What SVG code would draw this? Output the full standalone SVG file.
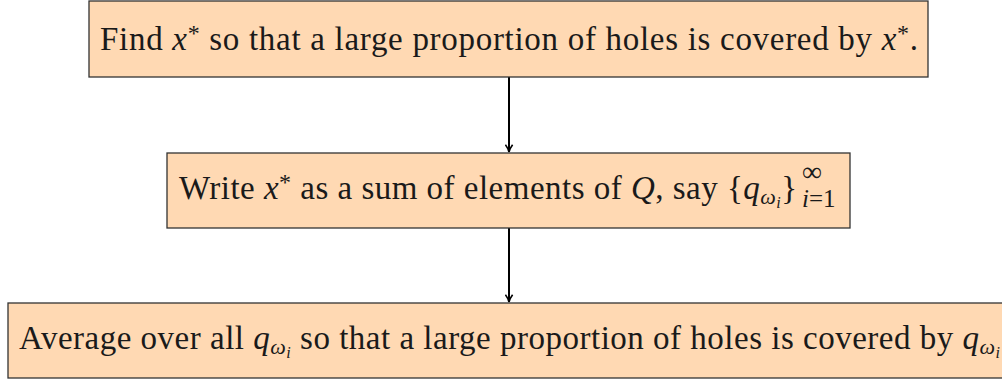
<svg xmlns="http://www.w3.org/2000/svg" width="1002" height="379" viewBox="0 0 1002 379">
<style>
.box{fill:#FFD9B3;stroke:#333;stroke-width:1.3}
.t{font-family:"Liberation Serif","Times New Roman",serif;font-size:33px;fill:#1a1a1a}
.s{font-family:"Liberation Serif","Times New Roman",serif;font-size:25px;fill:#1a1a1a}
.i{font-style:italic}
.conn{stroke:#000;stroke-width:2;fill:none}
</style>
<defs>
<marker id="ah" viewBox="0 0 10 10" refX="9" refY="5" markerWidth="9" markerHeight="9" markerUnits="userSpaceOnUse" orient="auto">
<path d="M1,1 Q5,4 9,5 Q5,6 1,9" fill="none" stroke="#000" stroke-width="1.8"/>
</marker>
</defs>
<g id="connectors">
<line class="conn" x1="509" y1="77" x2="509" y2="152" marker-end="url(#ah)"/>
<line class="conn" x1="509" y1="228" x2="509" y2="302" marker-end="url(#ah)"/>
</g>
<g id="node1">
<rect class="box" x="89" y="1" width="839" height="76"/>
<text class="t" x="100" y="50" textLength="818" lengthAdjust="spacing">Find <tspan class="i">x</tspan><tspan font-size="24" dy="-9">*</tspan><tspan dy="9"> so that a large proportion of holes is covered by </tspan><tspan class="i">x</tspan><tspan font-size="24" dy="-9">*</tspan><tspan dy="9">.</tspan></text>
</g>
<g id="node2">
<rect class="box" x="167" y="153" width="683" height="75"/>
<text class="t" x="179" y="199" textLength="618" lengthAdjust="spacing">Write <tspan class="i">x</tspan><tspan font-size="24" dy="-9">*</tspan><tspan dy="9"> as a sum of elements of </tspan><tspan class="i">Q</tspan>, say {<tspan class="i">q</tspan><tspan class="i" font-size="22" dy="5">ω</tspan><tspan class="i" font-size="16" dy="4">i</tspan><tspan dy="-9">}</tspan></text>
<text class="s"><tspan x="802" y="181" font-size="28">∞</tspan><tspan class="i" x="802" y="207">i</tspan><tspan>=1</tspan></text>
</g>
<g id="node3">
<rect class="box" x="8" y="303" width="1000" height="75"/>
<text class="t" x="19" y="349" textLength="981" lengthAdjust="spacing">Average over all <tspan class="i">q</tspan><tspan class="i" font-size="22" dy="5">ω</tspan><tspan class="i" font-size="16" dy="4">i</tspan><tspan dy="-9"> so that a large proportion of holes is covered by </tspan><tspan class="i">q</tspan><tspan class="i" font-size="22" dy="5">ω</tspan><tspan class="i" font-size="16" dy="4">i</tspan></text>
</g>
</svg>
